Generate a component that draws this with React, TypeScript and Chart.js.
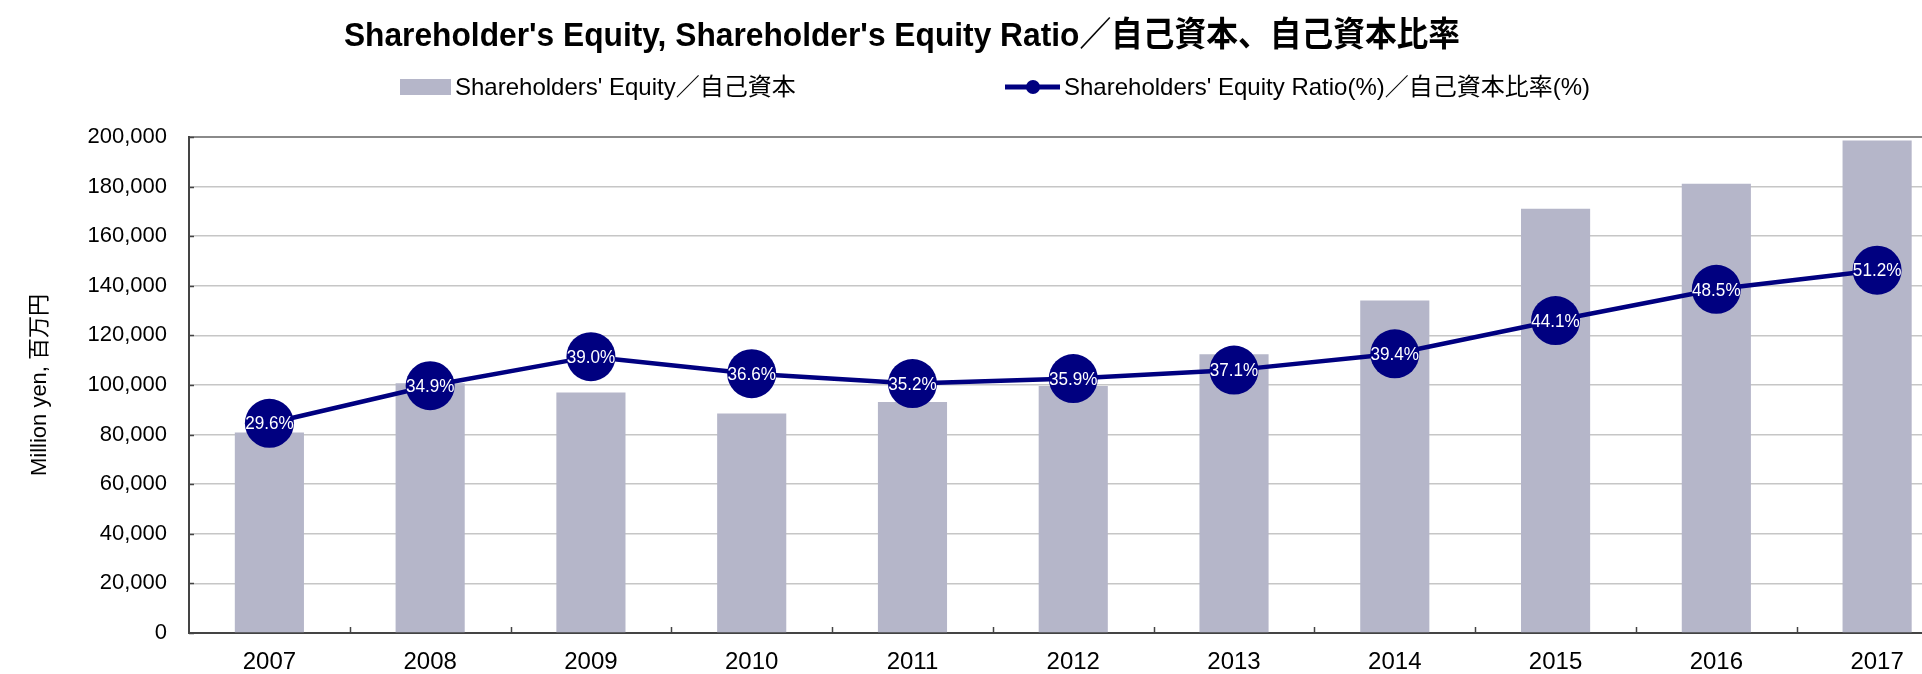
import React, { useEffect, useRef } from 'react';
import { Chart, registerables } from 'chart.js';

Chart.register(...registerables);

const years = ['2007', '2008', '2009', '2010', '2011', '2012', '2013', '2014', '2015', '2016', '2017'];
const equity = [80800, 100700, 97000, 88500, 93100, 99600, 112400, 134100, 171100, 181100, 198600];
const ratio = [29.6, 34.9, 39.0, 36.6, 35.2, 35.9, 37.1, 39.4, 44.1, 48.5, 51.2];

const titleText = "Shareholder's Equity, Shareholder's Equity Ratio／自己資本、自己資本比率";
const barLabel = "Shareholders' Equity／自己資本";
const lineLabel = "Shareholders' Equity Ratio(%)／自己資本比率(%)";
const yTitle = 'Million yen, 百万円';

const FONT = '"Liberation Sans", Arial, "Noto Sans CJK JP", sans-serif';
const BAR_COLOR = '#b5b6c9';
const LINE_COLOR = '#000080';
const AXIS_COLOR = '#444444';

const decor = {
  id: 'decor',
  afterDatasetsDraw(chart: any) {
    const ctx = chart.ctx;
    const meta = chart.getDatasetMeta(1);
    ctx.save();
    ctx.fillStyle = '#ffffff';
    ctx.font = `19px ${FONT}`;
    ctx.textAlign = 'center';
    ctx.textBaseline = 'middle';
    meta.data.forEach((pt: any, i: number) => {
      ctx.save();
      ctx.translate(pt.x, pt.y + 1);
      ctx.scale(0.9, 1);
      ctx.fillText(ratio[i].toFixed(1) + '%', 0, 0);
      ctx.restore();
    });
    ctx.restore();
  },
  afterDraw(chart: any) {
    const ctx = chart.ctx;
    const xs = chart.scales.x;
    const ys = chart.scales.y;
    const area = chart.chartArea;
    ctx.save();
    // inward tick marks on x axis at category boundaries
    ctx.strokeStyle = AXIS_COLOR;
    ctx.lineWidth = 1.5;
    for (let i = 0; i < years.length - 1; i++) {
      const b = (xs.getPixelForValue(i) + xs.getPixelForValue(i + 1)) / 2;
      ctx.beginPath();
      ctx.moveTo(Math.round(b) + 0.5, area.bottom);
      ctx.lineTo(Math.round(b) + 0.5, area.bottom - 6);
      ctx.stroke();
    }
    // inward stubs on y axis
    ys.ticks.forEach((t: any) => {
      const y = Math.round(ys.getPixelForValue(t.value)) + 0.5;
      ctx.beginPath();
      ctx.moveTo(area.left, y);
      ctx.lineTo(area.left + 5, y);
      ctx.stroke();
    });
    // title
    ctx.fillStyle = '#000';
    ctx.font = `bold 34px ${FONT}`;
    ctx.textAlign = 'center';
    ctx.textBaseline = 'middle';
    ctx.save();
    ctx.translate(902, 37);
    ctx.scale(0.933, 1);
    ctx.fillText(titleText, 0, 0);
    ctx.restore();
    // legend
    ctx.font = `24px ${FONT}`;
    ctx.textAlign = 'left';
    ctx.fillStyle = BAR_COLOR;
    ctx.fillRect(400, 79, 51, 16);
    ctx.fillStyle = '#000';
    ctx.fillText(barLabel, 455, 88);
    ctx.strokeStyle = LINE_COLOR;
    ctx.lineWidth = 5;
    ctx.beginPath();
    ctx.moveTo(1005, 87);
    ctx.lineTo(1060, 87);
    ctx.stroke();
    ctx.fillStyle = LINE_COLOR;
    ctx.beginPath();
    ctx.arc(1033, 87, 7, 0, Math.PI * 2);
    ctx.fill();
    ctx.fillStyle = '#000';
    ctx.fillText(lineLabel, 1064, 88);
    ctx.restore();
  },
};

export default function App() {
  const ref = useRef<HTMLCanvasElement | null>(null);

  useEffect(() => {
    if (!ref.current) return;
    const chart = new Chart(ref.current, {
      type: 'bar',
      data: {
        labels: years,
        datasets: [
          {
            type: 'bar',
            label: barLabel,
            data: equity,
            backgroundColor: BAR_COLOR,
            borderWidth: 0,
            categoryPercentage: 1,
            barPercentage: 0.43,
            yAxisID: 'y',
            order: 2,
          },
          {
            type: 'line',
            label: lineLabel,
            data: ratio,
            borderColor: LINE_COLOR,
            borderWidth: 4.5,
            pointRadius: 24.5,
            pointBackgroundColor: LINE_COLOR,
            pointBorderWidth: 0,
            pointHoverRadius: 24.5,
            tension: 0,
            yAxisID: 'y2',
            order: 1,
          },
        ],
      },
      options: {
        animation: false,
        responsive: false,
        devicePixelRatio: 1,
        layout: { padding: { top: 137, left: 0, right: 2, bottom: 0 } },
        plugins: {
          legend: { display: false },
          title: { display: false },
          tooltip: { enabled: false },
        },
        scales: {
          x: {
            type: 'category',
            offset: true,
            grid: { display: false, drawTicks: false },
            border: { display: true, color: AXIS_COLOR, width: 2 },
            ticks: {
              font: { size: 24, family: FONT },
              color: '#000',
              padding: 15,
              maxRotation: 0,
              autoSkip: false,
            },
            afterFit: (s: any) => {
              s.height = 41;
            },
          },
          y: {
            position: 'left',
            min: 0,
            max: 200000,
            ticks: {
              stepSize: 20000,
              padding: 22,
              font: { size: 22, family: FONT },
              color: '#000',
              callback: (v: any) => Number(v).toLocaleString('en-US'),
            },
            grid: {
              drawTicks: false,
              color: (c: any) => (c.tick && c.tick.value === 200000 ? '#8a8a8a' : '#c6c6c6'),
              lineWidth: (c: any) => (c.tick && c.tick.value === 200000 ? 2 : 1.5),
            },
            border: { display: true, color: AXIS_COLOR, width: 2 },
            title: {
              display: true,
              text: yTitle,
              color: '#000',
              font: { size: 22, family: FONT },
              padding: { top: 27, bottom: 0 },
            },
            afterFit: (s: any) => {
              s.width = 189;
            },
          },
          y2: {
            display: false,
            position: 'right',
            min: 0,
            max: 70,
          },
        },
      },
      plugins: [decor],
    });
    return () => chart.destroy();
  }, []);

  return (
    <div
      style={{
        position: 'fixed',
        left: 0,
        top: 0,
        width: 1922,
        height: 674,
        overflow: 'hidden',
        background: '#fff',
      }}
    >
      <canvas ref={ref} width={1982} height={674} style={{ display: 'block', width: 1982, height: 674 }} />
    </div>
  );
}
